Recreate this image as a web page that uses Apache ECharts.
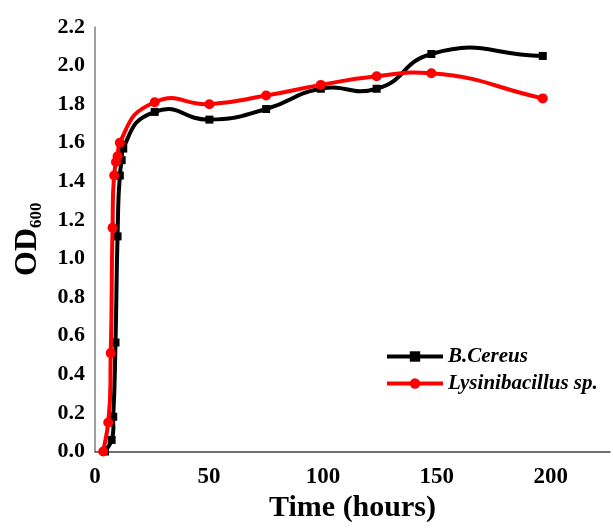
<!DOCTYPE html>
<html>
<head>
<meta charset="utf-8">
<script src="https://cdn.jsdelivr.net/npm/echarts@6/dist/echarts.min.js"></script>
<style>
  html, body { margin: 0; padding: 0; background: #fff; }
  #chart { width: 613px; height: 531px; }
</style>
</head>
<body>
<div id="chart"></div>
<script>
// Growth curves: optical density at 600 nm over time (hours)
const seriesNames = ['B.Cereus', 'Lysinibacillus sp.'];
const seriesColors = ['#000000', '#ff0000'];

const cereusTime = [4.4, 7.3, 8.0, 9.0, 9.9, 10.9, 11.7, 12.4, 26.2, 50.2, 75.1, 99.1, 123.6, 147.6, 196.5];
const cereusOD   = [0.00, 0.06, 0.18, 0.565, 1.115, 1.43, 1.51, 1.57, 1.76, 1.72, 1.775, 1.88, 1.88, 2.06, 2.05];

const lysiniTime = [3.6, 5.8, 6.9, 7.7, 8.4, 9.2, 9.9, 10.9, 26.2, 50.2, 75.1, 99.1, 123.6, 147.6, 196.5];
const lysiniOD   = [0.00, 0.15, 0.51, 1.16, 1.43, 1.50, 1.53, 1.60, 1.81, 1.80, 1.845, 1.90, 1.945, 1.96, 1.83];

const xTicks = [0, 50, 100, 150, 200];
const yTicks = [0, 0.2, 0.4, 0.6, 0.8, 1.0, 1.2, 1.4, 1.6, 1.8, 2.0, 2.2];

const pairs = (xs, ys) => xs.map((x, i) => [x, ys[i]]);

const serif = '"Liberation Serif", "DejaVu Serif", serif';

// Smoothed curve through the points in pixel space: tangents follow the
// bisector of the neighbouring segment directions, control arms scale with
// the segment length (allows the gentle overshoot of a spreadsheet "smoothed line").
const TENSION = 0.5;
function unit(dx, dy) {
  const l = Math.hypot(dx, dy) || 1;
  return [dx / l, dy / l];
}
function smoothPath(pts) {
  const n = pts.length;
  const tan = pts.map((p, i) => {
    if (i === 0) return unit(pts[1][0] - p[0], pts[1][1] - p[1]);
    if (i === n - 1) return unit(p[0] - pts[i - 1][0], p[1] - pts[i - 1][1]);
    const a = unit(p[0] - pts[i - 1][0], p[1] - pts[i - 1][1]);
    const b = unit(pts[i + 1][0] - p[0], pts[i + 1][1] - p[1]);
    return unit(a[0] + b[0], a[1] + b[1]);
  });
  let d = 'M' + pts[0][0] + ' ' + pts[0][1];
  for (let i = 0; i < n - 1; i++) {
    const p = pts[i], q = pts[i + 1];
    const len = Math.hypot(q[0] - p[0], q[1] - p[1]) * TENSION;
    const c1 = [p[0] + tan[i][0] * len, p[1] + tan[i][1] * len];
    const c2 = [q[0] - tan[i + 1][0] * len, q[1] - tan[i + 1][1] * len];
    d += ' C' + c1[0] + ' ' + c1[1] + ' ' + c2[0] + ' ' + c2[1] + ' ' + q[0] + ' ' + q[1];
  }
  return d;
}

function curveSeries(name, xs, ys, color, z) {
  return {
    name: name + ' curve',
    type: 'custom',
    data: pairs(xs, ys),
    clip: true,
    silent: true,
    z: z,
    renderItem: (params, api) => {
      if (params.dataIndex !== 0) return null;
      const pts = xs.map((x, i) => api.coord([x, ys[i]]));
      return {
        type: 'path',
        shape: { pathData: smoothPath(pts) },
        style: { stroke: color, lineWidth: 4, fill: null, lineJoin: 'round', lineCap: 'round' }
      };
    }
  };
}

function markerSeries(name, xs, ys, color, symbol, size, z) {
  return {
    name: name,
    type: 'line',
    data: pairs(xs, ys),
    symbol: symbol,
    symbolSize: size,
    showAllSymbol: true,
    lineStyle: { color: color, width: 4, opacity: 0 },
    itemStyle: { color: color },
    z: z
  };
}

const chart = echarts.init(document.getElementById('chart'), null, { renderer: 'canvas' });

chart.setOption({
  animation: false,
  backgroundColor: '#fff',
  grid: { left: 95, right: 0, top: 27, bottom: 79.5, containLabel: false },
  legend: {
    orient: 'vertical',
    left: 380,
    top: 341,
    itemWidth: 56,
    itemHeight: 13,
    itemGap: 6,
    data: [
      { name: seriesNames[0], lineStyle: { opacity: 1, width: 4, color: seriesColors[0] } },
      { name: seriesNames[1], lineStyle: { opacity: 1, width: 4, color: seriesColors[1] } }
    ],
    textStyle: {
      fontFamily: serif,
      fontWeight: 'bold',
      fontStyle: 'italic',
      fontSize: 21,
      color: '#000'
    }
  },
  xAxis: {
    type: 'value',
    min: 0,
    max: 226,
    interval: 50,
    name: 'Time (hours)',
    nameLocation: 'middle',
    nameGap: 40,
    nameTextStyle: { fontFamily: serif, fontWeight: 'bold', fontSize: 30, color: '#000' },
    axisLine: { show: true, lineStyle: { color: '#404040', width: 1.5 } },
    axisTick: { show: false },
    splitLine: { show: false },
    axisLabel: {
      margin: 14,
      fontFamily: serif,
      fontWeight: 'bold',
      fontSize: 23,
      color: '#000',
      formatter: v => (xTicks.includes(v) ? String(v) : '')
    }
  },
  yAxis: {
    type: 'value',
    min: 0,
    max: 2.2,
    interval: 0.2,
    name: '{a|OD}{b|600}',
    nameLocation: 'middle',
    nameRotate: 90,
    nameGap: 50,
    nameTextStyle: {
      rich: {
        a: { fontFamily: serif, fontWeight: 'bold', fontSize: 32, color: '#000', lineHeight: 34 },
        b: { fontFamily: serif, fontWeight: 'bold', fontSize: 17, color: '#000', verticalAlign: 'bottom', lineHeight: 24, padding: [12, 0, 0, 0] }
      }
    },
    axisLine: { show: true, lineStyle: { color: '#7f7f7f', width: 1.5 } },
    axisTick: { show: false },
    splitLine: { show: false },
    axisLabel: {
      margin: 10,
      fontFamily: serif,
      fontWeight: 'bold',
      fontSize: 22,
      color: '#000',
      formatter: v => {
        const t = yTicks.find(k => Math.abs(k - v) < 1e-6);
        return t === undefined ? '' : t.toFixed(1);
      }
    }
  },
  series: [
    curveSeries(seriesNames[0], cereusTime, cereusOD, seriesColors[0], 2),
    markerSeries(seriesNames[0], cereusTime, cereusOD, seriesColors[0], 'rect', 8, 3),
    curveSeries(seriesNames[1], lysiniTime, lysiniOD, seriesColors[1], 4),
    markerSeries(seriesNames[1], lysiniTime, lysiniOD, seriesColors[1], 'circle', 10, 5)
  ]
});
</script>
</body>
</html>
